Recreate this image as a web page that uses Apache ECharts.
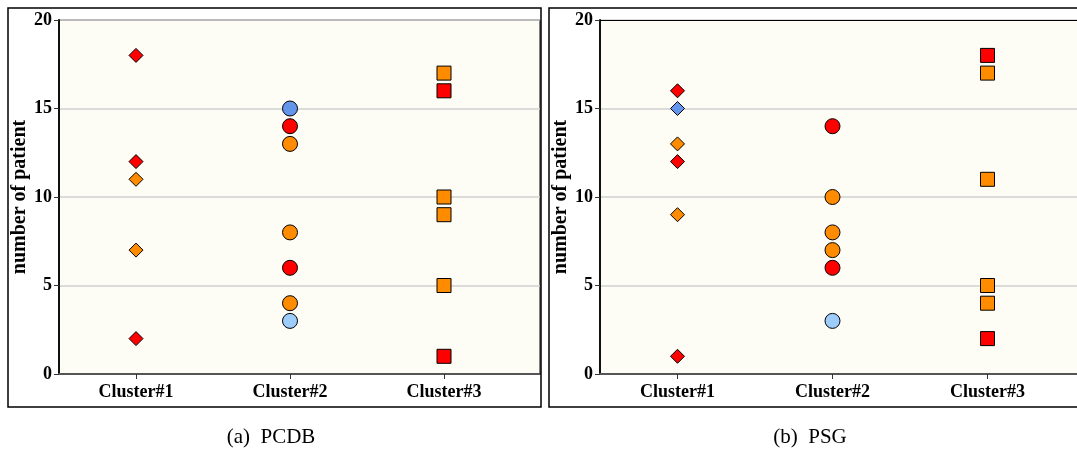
<!DOCTYPE html>
<html>
<head>
<meta charset="utf-8">
<script src="https://cdn.jsdelivr.net/npm/echarts@6/dist/echarts.min.js"></script>
<style>
html,body{margin:0;padding:0;background:#fff;}
#c{width:1077px;height:454px;}
</style>
</head>
<body>
<div id="c"></div>
<script>
// ---- data ----
const categories = ['Cluster#1', 'Cluster#2', 'Cluster#3'];
const yTicks = [0, 5, 10, 15, 20];
const captions = ['(a)  PCDB', '(b)  PSG'];
const yAxisName = 'number of patient';

// values per cluster (index 0..2), grouped by marker colour
const pcdbRed       = [[18, 12, 2], [14, 6], [16, 1]];
const pcdbOrange    = [[11, 7], [13, 8, 4], [17, 10, 9, 5]];
const pcdbBlue      = [[], [15], []];
const pcdbLightBlue = [[], [3], []];

const psgRed        = [[16, 12, 1], [14, 6], [18, 2]];
const psgOrange     = [[13, 9], [10, 8, 7], [17, 11, 5, 4]];
const psgBlue       = [[15], [], []];
const psgLightBlue  = [[], [3], []];

// ---- styling ----
const COLORS = { red: '#ff0000', orange: '#ff8c00', blue: '#6495ed', lightBlue: '#9fcdfb' };
const SYMBOLS = ['diamond', 'circle', 'rect'];
const SIZES = [14, 15, 14];
const FONT = '"Liberation Serif", "DejaVu Serif", serif';

function buildSeries(panelIdx, groups) {
  const out = [];
  groups.forEach(([arr, color]) => {
    arr.forEach((vals, ci) => {
      if (!vals.length) return;
      out.push({
        type: 'scatter',
        xAxisIndex: panelIdx,
        yAxisIndex: panelIdx,
        symbol: SYMBOLS[ci],
        symbolSize: SIZES[ci],
        itemStyle: { color: color, borderColor: '#000', borderWidth: 1, opacity: 1 },
        data: vals.map(v => [ci + 1, v]),
        z: 5
      });
    });
  });
  return out;
}

const series = [
  ...buildSeries(0, [[pcdbOrange, COLORS.orange], [pcdbRed, COLORS.red], [pcdbBlue, COLORS.blue], [pcdbLightBlue, COLORS.lightBlue]]),
  ...buildSeries(1, [[psgOrange, COLORS.orange], [psgRed, COLORS.red], [psgBlue, COLORS.blue], [psgLightBlue, COLORS.lightBlue]])
];

const grids = [
  { left: 59, top: 20, width: 481, height: 354, borderWidth: 1 },
  { left: 600, top: 20, width: 477, height: 354, borderWidth: 0 }
];
const pxPerUnit = [154, 155];

function xAxis(i) {
  return {
    type: 'value',
    gridIndex: i,
    min: 0.5,
    max: 0.5 + grids[i].width / pxPerUnit[i],
    splitLine: { show: false },
    axisLine: { show: true, onZero: false, lineStyle: { color: '#555', width: 2 } },
    axisTick: { show: true, customValues: [1, 2, 3], length: 5, lineStyle: { color: '#333', width: 1 } },
    axisLabel: {
      customValues: [1, 2, 3],
      formatter: v => categories[Math.round(v) - 1] || '',
      margin: 9,
      color: '#000',
      fontFamily: FONT,
      fontWeight: 'bold',
      fontSize: 18
    }
  };
}
function yAxis(i) {
  return {
    type: 'value',
    gridIndex: i,
    min: yTicks[0],
    max: yTicks[yTicks.length - 1],
    interval: 5,
    name: yAxisName,
    nameLocation: 'middle',
    nameGap: 25,
    nameTextStyle: { color: '#000', fontFamily: FONT, fontWeight: 'bold', fontSize: 20 },
    axisLine: { show: true, lineStyle: { color: '#111', width: 2 } },
    axisTick: { show: true, length: 5, lineStyle: { color: '#333', width: 1 } },
    axisLabel: { margin: 7, color: '#000', fontFamily: FONT, fontWeight: 'bold', fontSize: 18 },
    splitLine: { show: true, lineStyle: { color: '#cfcfcf', width: 1.5 } }
  };
}

const chart = echarts.init(document.getElementById('c'), null, { renderer: 'canvas' });
chart.setOption({
  animation: false,
  backgroundColor: '#fff',
  grid: grids.map(g => Object.assign({ show: true, backgroundColor: '#fdfdf6', borderColor: '#000' }, g)),
  xAxis: [xAxis(0), xAxis(1)],
  yAxis: [yAxis(0), yAxis(1)],
  graphic: [
    { type: 'rect', shape: { x: 8, y: 8, width: 533, height: 399 }, style: { fill: 'none', stroke: '#000', lineWidth: 1.5 }, z: 100 },
    { type: 'rect', shape: { x: 549, y: 8, width: 600, height: 399 }, style: { fill: 'none', stroke: '#000', lineWidth: 1.5 }, z: 100 },
    { type: 'line', shape: { x1: 600, y1: 20.5, x2: 1077, y2: 20.5 }, style: { stroke: '#000', lineWidth: 1 }, z: 100 },
    { type: 'text', x: 271, y: 437, style: { text: captions[0], fill: '#000', font: '21px ' + FONT, textAlign: 'center', textVerticalAlign: 'middle' } },
    { type: 'text', x: 810, y: 437, style: { text: captions[1], fill: '#000', font: '21px ' + FONT, textAlign: 'center', textVerticalAlign: 'middle' } }
  ],
  series: series
});
</script>
</body>
</html>
